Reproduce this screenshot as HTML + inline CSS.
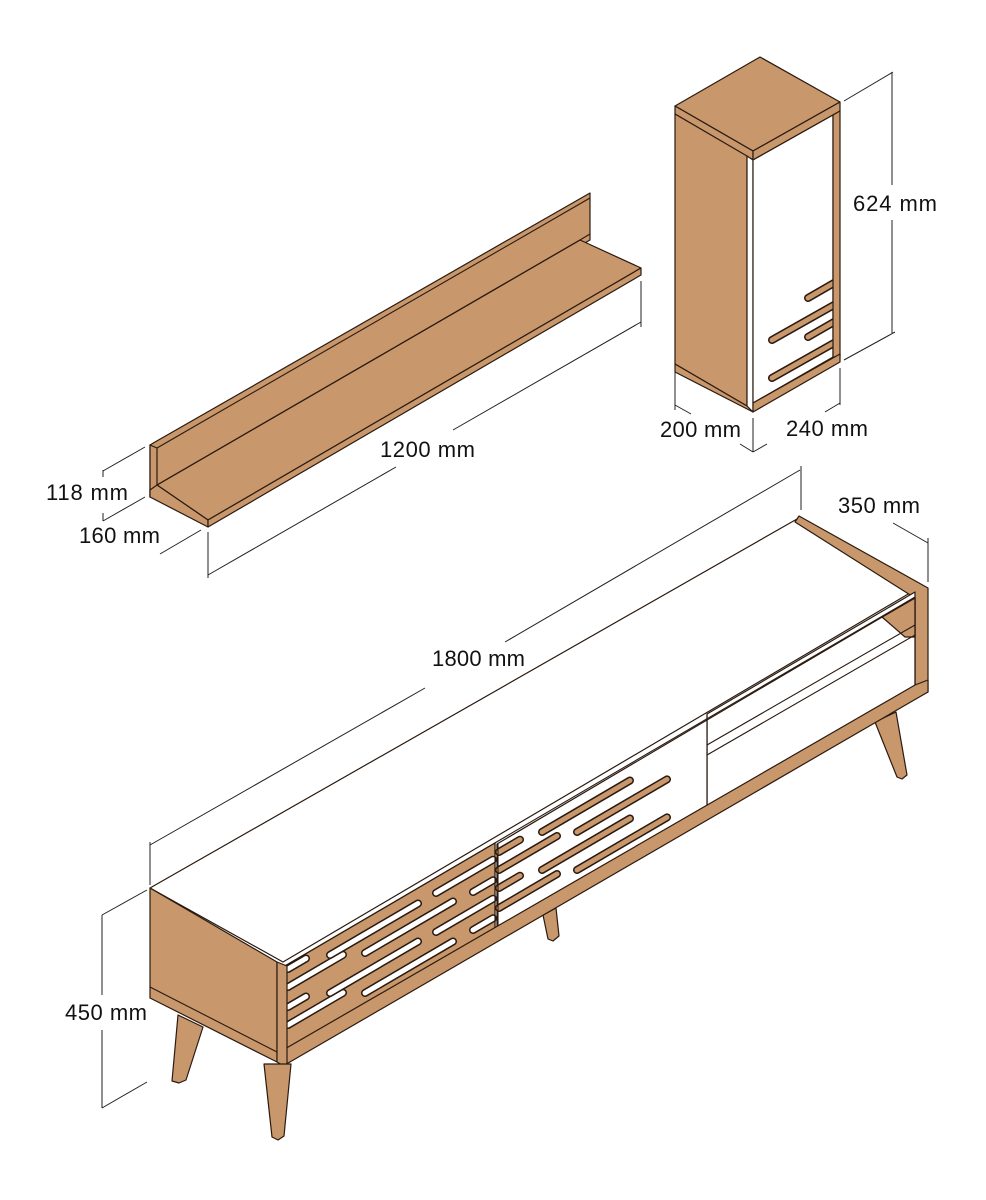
<!DOCTYPE html>
<html><head><meta charset="utf-8">
<style>
html,body{margin:0;padding:0;background:#fff;}
svg{display:block;}
text{font-family:"Liberation Sans",sans-serif;font-size:22px;fill:#111;}
</style></head>
<body>
<svg width="986" height="1200" viewBox="0 0 986 1200" xmlns="http://www.w3.org/2000/svg">
<defs>
<style>
.b{fill:#c8976b;stroke:#2a1a10;stroke-width:1.2;stroke-linejoin:round}
.w{fill:#fff;stroke:#2a1a10;stroke-width:1.2;stroke-linejoin:round}
.l{stroke:#2a1a10;stroke-width:1.1;fill:none}
.d{stroke:#222;stroke-width:1;fill:none}
.so{stroke:#2a1a10;stroke-width:8;stroke-linecap:round;fill:none}
.sw{stroke:#fff;stroke-width:5;stroke-linecap:round;fill:none}
.sb{stroke:#c8976b;stroke-width:5;stroke-linecap:round;fill:none}
</style>
</defs>
<rect width="986" height="1200" fill="#fff"/>

<!-- ===== WALL SHELF ===== -->
<polygon class="b" points="150,445 155,442 590,193 590,240 157,490 150,497"/>
<polygon class="b" points="150,445 157,448 157,497 150,497"/>
<line class="l" x1="157" y1="448" x2="590" y2="198"/>
<polygon class="b" points="157,485 580,240 641,268 208,520"/>
<polygon class="b" points="150,490 157,485 208,520 208,527 150,497"/>
<polygon class="b" points="208,520 641,268 641,275 208,527"/>
<line class="l" x1="157" y1="485" x2="580" y2="240"/>
<line class="l" x1="580" y1="240" x2="590" y2="234"/>
<line class="d" x1="208" y1="532" x2="208" y2="578"/>
<line class="d" x1="641" y1="281" x2="641" y2="327"/>
<line class="d" x1="208" y1="575" x2="396" y2="467"/>
<line class="d" x1="453" y1="430" x2="641" y2="322"/>
<line class="d" x1="145" y1="447" x2="103" y2="471"/>
<line class="d" x1="145" y1="497" x2="103" y2="521"/>
<line class="d" x1="103" y1="470" x2="103" y2="477"/>
<line class="d" x1="103" y1="513" x2="103" y2="521"/>
<line class="d" x1="201" y1="530" x2="160" y2="554"/>
<text x="380" y="457" textLength="95">1200 mm</text>
<text x="46" y="500" textLength="82">118 mm</text>
<text x="79" y="543" textLength="81">160 mm</text>

<!-- ===== CABINET ===== -->
<polygon class="b" points="675,106 760,57 840,102 753,151"/>
<polygon class="b" points="675,106 753,151 753,160 675,114"/>
<polygon class="b" points="753,151 840,102 840,111 753,160"/>
<polygon class="b" points="675,114 747,156 747,406 675,364"/>
<polygon class="b" points="675,364 747,406 753,412 675,372"/>
<polygon class="w" points="747,156 753,160 753,412 747,406"/>
<polygon class="w" points="753,160 833,115 833,357 753,403"/>
<line class="so" x1="808" y1="298" x2="834" y2="283"/><line class="sb" x1="808" y1="298" x2="834" y2="283"/>
<line class="so" x1="772" y1="340" x2="834" y2="305"/><line class="sb" x1="772" y1="340" x2="834" y2="305"/>
<line class="so" x1="808" y1="337" x2="834" y2="322"/><line class="sb" x1="808" y1="337" x2="834" y2="322"/>
<line class="so" x1="772" y1="378" x2="834" y2="343"/><line class="sb" x1="772" y1="378" x2="834" y2="343"/>
<polygon class="b" points="833,115 840,111 840,357 833,357"/>
<polygon class="b" points="753,403 840,354 840,362 753,412"/>
<line class="d" x1="844" y1="101" x2="893" y2="72"/>
<line class="d" x1="844" y1="360" x2="895" y2="332"/>
<line class="d" x1="892" y1="72" x2="892" y2="185"/>
<line class="d" x1="892" y1="220" x2="892" y2="333"/>
<line class="d" x1="675" y1="372" x2="675" y2="410"/>
<line class="d" x1="675" y1="405" x2="691" y2="414"/>
<line class="d" x1="753" y1="418" x2="753" y2="452"/>
<line class="d" x1="753" y1="452" x2="740" y2="444"/>
<line class="d" x1="753" y1="452" x2="767" y2="444"/>
<line class="d" x1="840" y1="368" x2="840" y2="405"/>
<line class="d" x1="840" y1="403" x2="825" y2="412"/>
<text x="853" y="211" textLength="84">624 mm</text>
<text x="660" y="437" textLength="81">200 mm</text>
<text x="786" y="436" textLength="82">240 mm</text>

<!-- ===== TV STAND ===== -->
<polygon class="b" points="178,1015 203,1027 186,1080 179,1083 172,1081"/>
<polygon class="b" points="543,915 556,908 559,936 553,941 548,939"/>
<polygon class="b" points="875,722 896,712 907,775 902,779 897,777"/>
<polygon class="w" points="150,888 797,519 915,590 283,962"/>
<polygon class="b" points="795,522 799,516 928,588 928,692 915,699 915,598"/>
<polygon class="w" points="707,714 915,592 915,686 707,808"/>
<polygon class="b" points="882,617 915,598 915,637 905,637"/>
<line class="l" x1="707" y1="720" x2="913" y2="599"/>
<line class="l" x1="707" y1="745" x2="915" y2="625"/>
<line class="l" x1="707" y1="755" x2="915" y2="635"/>
<line class="l" x1="882" y1="617" x2="915" y2="598"/>
<line class="l" x1="707" y1="714" x2="707" y2="808"/>
<line class="l" x1="915" y1="598" x2="915" y2="686"/>
<line class="l" x1="283" y1="967" x2="915" y2="597"/>
<polygon class="w" points="497,844 707,720 707,808 497,932"/>
<line class="so" x1="499" y1="852" x2="520" y2="839.7"/><line class="sb" x1="499" y1="852" x2="520" y2="839.7"/>
<line class="so" x1="499" y1="870" x2="557" y2="836"/><line class="sb" x1="499" y1="870" x2="557" y2="836"/>
<line class="so" x1="499" y1="888" x2="520" y2="875.7"/><line class="sb" x1="499" y1="888" x2="520" y2="875.7"/>
<line class="so" x1="499" y1="908" x2="557" y2="874"/><line class="sb" x1="499" y1="908" x2="557" y2="874"/>
<line class="so" x1="542" y1="832" x2="630" y2="780.5"/><line class="sb" x1="542" y1="832" x2="630" y2="780.5"/>
<line class="so" x1="577" y1="832" x2="667" y2="779.4"/><line class="sb" x1="577" y1="832" x2="667" y2="779.4"/>
<line class="so" x1="542" y1="870" x2="630" y2="818.5"/><line class="sb" x1="542" y1="870" x2="630" y2="818.5"/>
<line class="so" x1="577" y1="870" x2="667" y2="817.4"/><line class="sb" x1="577" y1="870" x2="667" y2="817.4"/>
<polygon class="b" points="285,966 495,843 495,933 285,1050"/>
<line class="so" x1="288" y1="969" x2="306" y2="958.5"/><line class="sw" x1="288" y1="969" x2="306" y2="958.5"/>
<line class="so" x1="288" y1="987" x2="343" y2="954.8"/><line class="sw" x1="288" y1="987" x2="343" y2="954.8"/>
<line class="so" x1="288" y1="1007" x2="306" y2="996.5"/><line class="sw" x1="288" y1="1007" x2="306" y2="996.5"/>
<line class="so" x1="288" y1="1025" x2="343" y2="992.8"/><line class="sw" x1="288" y1="1025" x2="343" y2="992.8"/>
<line class="so" x1="330" y1="955" x2="418" y2="903.5"/><line class="sw" x1="330" y1="955" x2="418" y2="903.5"/>
<line class="so" x1="365" y1="953" x2="453" y2="901.5"/><line class="sw" x1="365" y1="953" x2="453" y2="901.5"/>
<line class="so" x1="330" y1="993" x2="418" y2="941.5"/><line class="sw" x1="330" y1="993" x2="418" y2="941.5"/>
<line class="so" x1="365" y1="993" x2="453" y2="941.5"/><line class="sw" x1="365" y1="993" x2="453" y2="941.5"/>
<line class="so" x1="436" y1="893" x2="493" y2="859.7"/><line class="sw" x1="436" y1="893" x2="493" y2="859.7"/>
<line class="so" x1="473" y1="892" x2="493" y2="880.3"/><line class="sw" x1="473" y1="892" x2="493" y2="880.3"/>
<line class="so" x1="436" y1="932" x2="493" y2="898.7"/><line class="sw" x1="436" y1="932" x2="493" y2="898.7"/>
<line class="so" x1="473" y1="930" x2="493" y2="918.3"/><line class="sw" x1="473" y1="930" x2="493" y2="918.3"/>
<line class="l" x1="495" y1="843" x2="495" y2="933"/>
<line class="l" x1="498" y1="844" x2="498" y2="932"/>
<polygon class="b" points="283,1050 915,685 928,680 928,692 283,1066"/>
<polygon class="b" points="150,888 277,962 277,1062 150,998"/>
<line class="l" x1="150" y1="987" x2="277" y2="1052"/>
<polygon class="b" points="277,962 287,966 287,1068 277,1062"/>
<polygon class="b" points="264,1064 291,1064 284,1136 278,1140 272,1137"/>
<line class="d" x1="150" y1="842" x2="150" y2="885"/>
<line class="d" x1="150" y1="845" x2="425" y2="688"/>
<line class="d" x1="505" y1="642" x2="800" y2="470"/>
<line class="d" x1="801" y1="466" x2="801" y2="510"/>
<line class="d" x1="893" y1="523" x2="928" y2="543"/>
<line class="d" x1="928" y1="538" x2="928" y2="582"/>
<line class="d" x1="102" y1="915" x2="147" y2="890"/>
<line class="d" x1="102" y1="1108" x2="147" y2="1082"/>
<line class="d" x1="102" y1="915" x2="102" y2="995"/>
<line class="d" x1="102" y1="1030" x2="102" y2="1108"/>
<text x="432" y="666" textLength="93">1800 mm</text>
<text x="838" y="513" textLength="82">350 mm</text>
<text x="65" y="1020" textLength="82">450 mm</text>
</svg>
</body></html>
